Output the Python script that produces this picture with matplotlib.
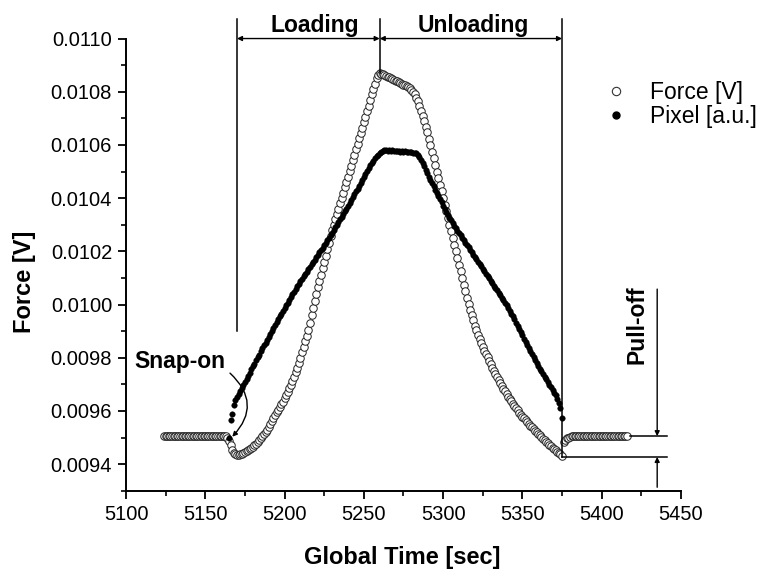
import numpy as np
import matplotlib
matplotlib.use('Agg')
import matplotlib.pyplot as plt
from matplotlib.ticker import MultipleLocator, FormatStrFormatter
from matplotlib.lines import Line2D

plt.rcParams['font.family'] = ['Liberation Sans', 'DejaVu Sans']

# --- data (in mV; converted to V below) ---
force_t0, force_t1 = 5124, 5416        # force sampled every 1 s
force_mV = [
    9.505, 9.505, 9.505, 9.505, 9.505, 9.505, 9.505, 9.505, 9.505, 9.505,
    9.505, 9.505, 9.505, 9.505, 9.505, 9.505, 9.505, 9.505, 9.505, 9.505,
    9.505, 9.505, 9.505, 9.505, 9.505, 9.505, 9.505, 9.505, 9.505, 9.505,
    9.505, 9.505, 9.505, 9.505, 9.505, 9.505, 9.505, 9.505, 9.505, 9.505,
    9.500, 9.488, 9.470, 9.452, 9.442, 9.438, 9.436, 9.436, 9.437, 9.439,
    9.442, 9.445, 9.448, 9.452, 9.456, 9.460, 9.465, 9.471, 9.477, 9.484,
    9.490, 9.497, 9.505, 9.513, 9.521, 9.530, 9.540, 9.550, 9.561, 9.572,
    9.583, 9.595, 9.605, 9.615, 9.625, 9.635, 9.647, 9.659, 9.672, 9.685,
    9.698, 9.712, 9.728, 9.745, 9.762, 9.780, 9.800, 9.820, 9.840, 9.861,
    9.883, 9.905, 9.932, 9.959, 9.986, 10.013, 10.040, 10.064, 10.088, 10.112,
    10.136, 10.160, 10.184, 10.208, 10.232, 10.256, 10.280, 10.300, 10.320, 10.340,
    10.360, 10.380, 10.400, 10.420, 10.440, 10.460, 10.480, 10.501, 10.522, 10.543,
    10.564, 10.585, 10.605, 10.625, 10.645, 10.665, 10.685, 10.706, 10.727, 10.748,
    10.769, 10.790, 10.810, 10.830, 10.850, 10.862, 10.870, 10.868, 10.866, 10.863,
    10.860, 10.857, 10.854, 10.851, 10.848, 10.845, 10.842, 10.839, 10.836, 10.833,
    10.830, 10.827, 10.824, 10.821, 10.818, 10.814, 10.808, 10.800, 10.790, 10.778,
    10.764, 10.747, 10.729, 10.710, 10.690, 10.669, 10.647, 10.624, 10.600, 10.575,
    10.550, 10.525, 10.500, 10.475, 10.450, 10.425, 10.400, 10.375, 10.350, 10.325,
    10.300, 10.275, 10.250, 10.225, 10.200, 10.175, 10.150, 10.125, 10.100, 10.075,
    10.050, 10.026, 10.003, 9.981, 9.960, 9.940, 9.921, 9.903, 9.886, 9.870,
    9.855, 9.841, 9.827, 9.814, 9.801, 9.788, 9.775, 9.763, 9.751, 9.739,
    9.727, 9.716, 9.705, 9.694, 9.684, 9.674, 9.664, 9.654, 9.645, 9.636,
    9.627, 9.618, 9.610, 9.602, 9.594, 9.586, 9.579, 9.572, 9.565, 9.558,
    9.551, 9.544, 9.538, 9.532, 9.526, 9.520, 9.514, 9.508, 9.502, 9.496,
    9.490, 9.484, 9.478, 9.472, 9.467, 9.462, 9.457, 9.452, 9.447, 9.442,
    9.437, 9.430, 9.482, 9.492, 9.497, 9.500, 9.503, 9.505, 9.505, 9.505,
    9.505, 9.505, 9.505, 9.505, 9.505, 9.505, 9.505, 9.505, 9.505, 9.505,
    9.505, 9.505, 9.505, 9.505, 9.505, 9.505, 9.505, 9.505, 9.505, 9.505,
    9.505, 9.505, 9.505, 9.505, 9.505, 9.505, 9.505, 9.505, 9.505, 9.505,
    9.505, 9.505, 9.505,
]

pixel_t0, pixel_t1 = 5165, 5375        # pixel signal only during contact
pixel_mV = [
    9.500, 9.565, 9.590, 9.622, 9.641, 9.652, 9.664, 9.675, 9.687, 9.698,
    9.710, 9.721, 9.733, 9.744, 9.756, 9.767, 9.778, 9.790, 9.801, 9.812,
    9.824, 9.835, 9.846, 9.857, 9.868, 9.879, 9.890, 9.901, 9.912, 9.923,
    9.934, 9.944, 9.955, 9.965, 9.976, 9.986, 9.997, 10.007, 10.018, 10.028,
    10.038, 10.048, 10.058, 10.068, 10.078, 10.088, 10.097, 10.106, 10.115, 10.124,
    10.133, 10.142, 10.151, 10.160, 10.169, 10.178, 10.187, 10.196, 10.205, 10.214,
    10.223, 10.232, 10.241, 10.250, 10.260, 10.270, 10.280, 10.290, 10.300, 10.310,
    10.320, 10.330, 10.340, 10.350, 10.360, 10.370, 10.381, 10.392, 10.403, 10.414,
    10.425, 10.436, 10.447, 10.458, 10.469, 10.480, 10.491, 10.502, 10.513, 10.523,
    10.532, 10.541, 10.550, 10.557, 10.564, 10.570, 10.575, 10.578, 10.580, 10.580,
    10.579, 10.581, 10.578, 10.580, 10.577, 10.579, 10.576, 10.578, 10.575, 10.577,
    10.574, 10.576, 10.573, 10.575, 10.572, 10.574, 10.571, 10.570, 10.568, 10.562,
    10.555, 10.545, 10.533, 10.520, 10.507, 10.494, 10.481, 10.468, 10.456, 10.444,
    10.432, 10.420, 10.408, 10.396, 10.384, 10.372, 10.360, 10.349, 10.338, 10.327,
    10.317, 10.307, 10.297, 10.287, 10.278, 10.269, 10.260, 10.251, 10.242, 10.233,
    10.224, 10.215, 10.206, 10.197, 10.188, 10.179, 10.170, 10.161, 10.152, 10.143,
    10.134, 10.125, 10.116, 10.107, 10.098, 10.089, 10.080, 10.071, 10.062, 10.053,
    10.044, 10.035, 10.026, 10.017, 10.007, 9.997, 9.987, 9.977, 9.966, 9.955,
    9.944, 9.932, 9.920, 9.908, 9.896, 9.884, 9.872, 9.860, 9.848, 9.836,
    9.825, 9.814, 9.803, 9.792, 9.781, 9.770, 9.759, 9.749, 9.739, 9.729,
    9.719, 9.709, 9.699, 9.689, 9.679, 9.669, 9.658, 9.645, 9.630, 9.612,
    9.573,
]

force_t = np.arange(force_t0, force_t1 + 1)
pixel_t = np.arange(pixel_t0, pixel_t1 + 1)
force_v = np.array(force_mV) / 1000.0
pixel_v = np.array(pixel_mV) / 1000.0

fig = plt.figure(figsize=(7.66, 5.70), dpi=100)
ax = fig.add_axes([0.1645, 0.1391, 0.7245, 0.7933])

ax.plot(force_t, force_v, linestyle='None', marker='o', markersize=5.4,
        markerfacecolor='white', markeredgecolor='#222222', markeredgewidth=0.7)
ax.plot(pixel_t, pixel_v, linestyle='None', marker='o', markersize=4.0,
        markerfacecolor='black', markeredgecolor='black', markeredgewidth=0.3)

ax.set_xlim(5100, 5450)
ax.set_ylim(0.0093, 0.0110)
ax.xaxis.set_major_locator(MultipleLocator(50))
ax.xaxis.set_minor_locator(MultipleLocator(25))
ax.yaxis.set_major_locator(MultipleLocator(0.0002))
ax.yaxis.set_minor_locator(MultipleLocator(0.0001))
ax.yaxis.set_major_formatter(FormatStrFormatter('%.4f'))
for s in ['top', 'right']:
    ax.spines[s].set_visible(False)
for s in ['left', 'bottom']:
    ax.spines[s].set_linewidth(1.4)
ax.tick_params(which='major', direction='out', length=6, width=1.3,
               labelsize=14.5, pad=4)
ax.tick_params(which='minor', direction='out', length=3.8, width=1.2)

fig.text(0.5255, 0.0228, 'Global Time [sec]', ha='center', va='center',
         fontsize=17, fontweight='bold')
fig.text(0.032, 0.505, 'Force [V]', ha='center', va='center', rotation=90,
         fontsize=17, fontweight='bold')

# --- loading / unloading markers ---
line_kw = dict(color='black', lw=1.1, clip_on=False)
ax.plot([5170, 5170], [0.0099, 0.011073], **line_kw)
ax.plot([5260, 5260], [0.010870, 0.011073], **line_kw)
ax.plot([5375, 5375], [0.009427, 0.011073], **line_kw)
arr_kw = dict(arrowstyle='<|-|>', color='black', lw=1.0, mutation_scale=7,
              shrinkA=0, shrinkB=0)
ax.annotate('', xy=(5170, 0.0110), xytext=(5260, 0.0110),
            arrowprops=arr_kw, annotation_clip=False)
ax.annotate('', xy=(5260, 0.0110), xytext=(5375, 0.0110),
            arrowprops=arr_kw, annotation_clip=False)
ax.text(5219, 0.011024, 'Loading', ha='center', va='baseline',
        fontsize=16.5, fontweight='bold')
ax.text(5319, 0.011024, 'Unloading', ha='center', va='baseline',
        fontsize=16.5, fontweight='bold')

# --- snap-on ---
ax.text(5134, 0.009761, 'Snap-on', ha='center', va='baseline',
        fontsize=16.5, fontweight='bold')
ax.annotate('', xy=(5167, 0.009503), xytext=(5165.6, 0.009742),
            arrowprops=dict(arrowstyle='-|>', color='black', lw=1.0,
                            mutation_scale=7, shrinkA=0, shrinkB=0,
                            connectionstyle='arc3,rad=-0.5'))

# --- pull-off ---
ax.plot([5375, 5441], [0.009427, 0.009427], **line_kw)
ax.plot([5418, 5441], [0.009505, 0.009505], **line_kw)
one_kw = dict(arrowstyle='-|>', color='black', lw=1.0, mutation_scale=7,
              shrinkA=0, shrinkB=0)
ax.annotate('', xy=(5435, 0.009505), xytext=(5435, 0.010058),
            arrowprops=one_kw, annotation_clip=False)
ax.annotate('', xy=(5435, 0.009427), xytext=(5435, 0.009313),
            arrowprops=one_kw, annotation_clip=False)
ax.text(5422, 0.009925, 'Pull-off', ha='center', va='center', rotation=90,
        fontsize=16.5, fontweight='bold')

# --- legend ---
handles = [Line2D([], [], linestyle='None', marker='o', markersize=6,
                  markerfacecolor='white', markeredgecolor='#333333',
                  markeredgewidth=0.8),
           Line2D([], [], linestyle='None', marker='o', markersize=5,
                  markerfacecolor='black', markeredgecolor='black')]
fig.legend(handles, ['Force [V]', 'Pixel [a.u.]'], loc='upper left',
           bbox_to_anchor=(0.789, 0.858), frameon=False, fontsize=16.5,
           handlelength=1.0, handletextpad=1.0, borderpad=0,
           borderaxespad=0, labelspacing=0.05)

fig.savefig('out.png', dpi=100)
